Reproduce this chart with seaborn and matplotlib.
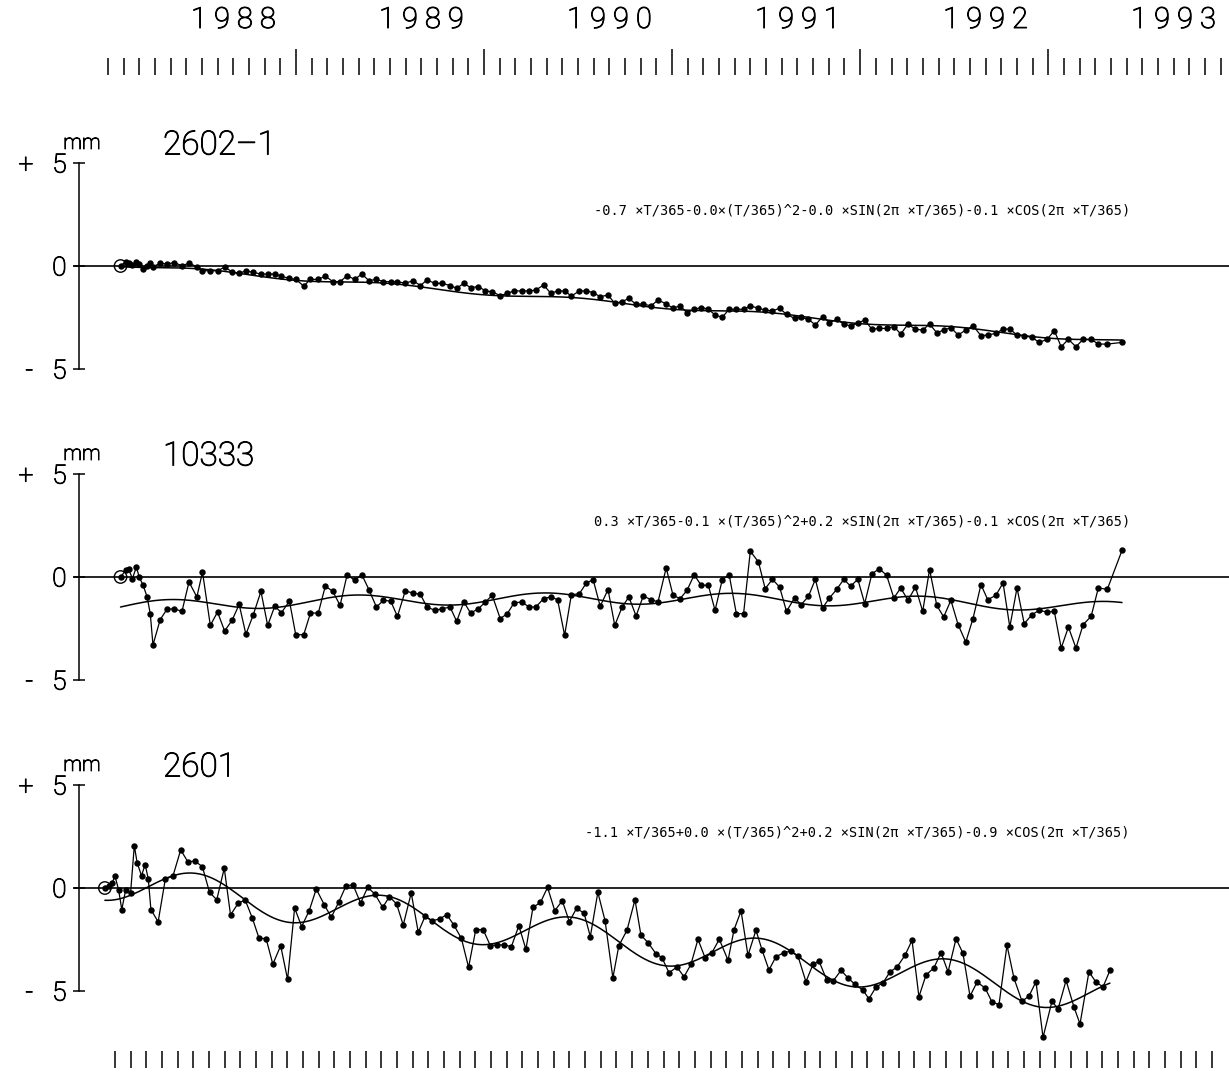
import numpy as np
import pandas as pd
import matplotlib
matplotlib.use("Agg")
import matplotlib.pyplot as plt
import matplotlib.transforms as mtransforms
import matplotlib.patheffects as pe
import seaborn as sns

# ---------------- data ----------------
# time of each levelling, months since 1 Jan 1988 (stations 2602-1 and 10333)
months_a = [0.80, 1.13, 1.31, 1.56, 1.81, 1.99, 2.24, 2.50, 2.70, 2.87,
            3.33, 3.76, 4.21, 4.72, 5.17, 5.67, 6.03, 6.53, 6.99, 7.44,
            7.92, 8.37, 8.80, 9.26, 9.76, 10.19, 10.64, 11.07, 11.58, 11.98,
            12.49, 12.92, 13.42, 13.87, 14.35, 14.81, 15.26, 15.74, 16.20, 16.65,
            17.13, 17.58, 18.04, 18.47, 18.97, 19.48, 19.93, 20.36, 20.86, 21.32,
            21.83, 22.25, 22.71, 23.14, 23.64, 24.09, 24.52, 25.03, 25.48, 25.91,
            26.41, 26.87, 27.30, 27.80, 28.26, 28.69, 29.14, 29.57, 30.08, 30.53,
            30.96, 31.41, 31.91, 32.34,
            32.81, 33.24, 33.70, 34.16, 34.65, 35.10, 35.62, 36.06, 36.51, 36.95,
            37.41, 37.85, 38.31, 38.74, 39.20, 39.64, 40.10, 40.56, 40.99, 41.51,
            41.94, 42.40, 42.86, 43.30, 43.81, 44.24, 44.70, 45.14, 45.60, 46.04,
            46.50, 46.96, 47.39, 47.85, 48.29, 48.75, 49.23, 49.69, 50.15, 50.59,
            51.05, 51.53, 51.99, 52.43, 52.89, 53.33, 53.79, 54.25, 54.74, 55.20,
            55.71, 56.14, 56.66, 57.12, 57.55, 58.01, 58.47, 58.96, 59.42, 59.93,
            60.39, 60.83, 61.29, 61.77, 62.23, 62.74, 63.20, 63.77, 64.71]

# station 2601 (measured from slightly earlier)
months_b = [-0.20, 0.04, 0.25, 0.45, 0.68, 0.88, 1.13, 1.44, 1.68, 1.86,
            2.14, 2.37, 2.57, 2.74,
            3.20, 3.66, 4.14, 4.64, 5.09, 5.55, 6.02, 6.48, 6.94, 7.42,
            7.82, 8.30, 8.75, 9.21, 9.64, 10.09, 10.52, 11.02, 11.46, 11.91,
            12.36, 12.84, 13.29, 13.80, 14.25, 14.74, 15.19, 15.64, 16.12, 16.57,
            17.03, 17.53, 17.96, 18.42, 18.84, 19.35, 19.80, 20.23, 20.69, 21.17,
            21.62, 22.07, 22.55, 23.01, 23.47, 23.94, 24.40, 24.85, 25.28, 25.74,
            26.22, 26.67, 27.12, 27.60, 28.05, 28.51, 28.99, 29.44, 29.90, 30.38,
            30.78, 31.26, 31.72, 32.22, 32.60,
            33.12, 33.63, 34.01, 34.46, 34.97, 35.35, 35.80, 36.31, 36.76, 37.20,
            37.65, 38.10, 38.54, 39.01, 39.57, 39.95, 40.40, 40.84, 41.35, 41.74,
            42.18, 42.63, 43.14, 43.59, 44.03, 44.54, 44.99, 45.37, 45.88, 46.27,
            46.78, 47.22, 47.67, 48.18, 48.56, 49.01, 49.46, 49.90, 50.35, 50.86,
            51.31, 51.75, 52.20, 52.71, 53.16, 53.61, 54.12, 54.56, 55.01, 55.46,
            55.97, 56.41, 56.86, 57.37, 57.82, 58.33, 58.77, 59.22, 59.67, 60.24,
            60.63, 61.14, 61.65, 62.03, 62.60, 63.05, 63.50, 63.94]

# height change (mm)
dh_2602_1 = [0.00, 0.21, 0.16, 0.05, 0.21, 0.08, -0.16, 0.02, 0.13, -0.03,
             0.13, 0.10, 0.16, 0.02, 0.13, -0.03, -0.23, -0.23, -0.23, -0.06,
             -0.28, -0.36, -0.23, -0.31, -0.39, -0.39, -0.39, -0.50, -0.60, -0.65,
             -0.97, -0.65, -0.65, -0.49, -0.76, -0.76, -0.47, -0.65, -0.39, -0.71,
             -0.65, -0.76, -0.76, -0.76, -0.84, -0.71, -0.95, -0.68, -0.84, -0.84,
             -0.95, -1.08, -0.84, -1.05, -1.00, -1.21, -1.25, -1.44, -1.33, -1.21,
             -1.21, -1.21, -1.17, -0.92, -1.33, -1.21, -1.21, -1.46, -1.21, -1.21,
             -1.29,
             -1.49, -1.41, -1.81, -1.73, -1.57, -1.86, -1.84, -1.94, -1.65, -1.84,
             -2.05, -1.93, -2.27, -2.10, -2.02, -2.09, -2.38, -2.49, -2.10, -2.10,
             -2.10, -1.94, -2.05, -2.14, -2.18, -2.05, -2.35, -2.54, -2.49, -2.59,
             -2.86, -2.46, -2.75, -2.59, -2.82, -2.91, -2.78, -2.62, -3.07, -3.03,
             -3.03, -2.94, -3.30, -2.83, -3.07, -3.11, -2.82, -3.24, -3.11, -2.99,
             -3.35, -3.11, -2.90, -3.38, -3.35, -3.27, -3.06, -3.06, -3.35, -3.40,
             -3.46, -3.71, -3.56, -3.14, -3.92, -3.56, -3.92, -3.56, -3.56, -3.79,
             -3.79, -3.71]

dh_10333 = [0.00, 0.32, 0.40, -0.08, 0.49, 0.00, -0.40, -0.97, -1.80, -3.30,
            -2.07, -1.57, -1.54, -1.67, -0.24, -0.97, 0.24, -2.35, -1.70, -2.62,
            -2.10, -1.33, -2.78, -1.86, -0.70, -2.35, -1.42, -1.73, -1.17, -2.80,
            -2.80, -1.75, -1.75, -0.44, -0.70, -1.38, 0.11, -0.16, 0.11, -0.61,
            -1.46, -1.13, -1.17, -1.91, -0.68, -0.78, -0.84, -1.46, -1.62, -1.54,
            -1.46, -2.15, -1.21, -1.75, -1.54, -1.21, -0.89, -2.02, -1.78, -1.26,
            -1.21, -1.46, -1.46, -1.05, -0.97, -1.10, -2.83, -0.86, -0.81, -0.29,
            -0.13, -1.42, -0.61, -2.35,
            -1.46, -0.97, -1.89, -0.92, -1.10, -1.21, 0.44, -0.89, -1.05, -0.65,
            0.11, -0.40, -0.40, -1.62, -0.13, 0.11, -1.78, -1.78, 1.25, 0.73,
            -0.57, -0.11, -0.49, -1.67, -1.02, -1.34, -0.94, -0.11, -1.50, -1.02,
            -0.60, -0.11, -0.45, -0.11, -1.29, 0.16, 0.40, 0.08, -1.02, -0.53,
            -1.13, -0.49, -1.67, 0.36, -1.38, -1.94, -1.13, -2.31, -3.16, -2.02,
            -0.37, -1.10, -0.89, -0.29, -2.43, -0.53, -2.27, -1.83, -1.62, -1.70,
            -1.67, -3.45, -2.43, -3.45, -2.31, -1.91, -0.53, -0.60, 1.29]

dh_2601 = [0.00, 0.10, 0.24, 0.57, -0.10, -1.05, -0.08, -0.24, 2.06, 1.22,
           0.60, 1.14, 0.44, -1.05,
           -1.64, 0.44, 0.57, 1.85, 1.28, 1.30, 1.04, -0.21, -0.57, 0.96,
           -1.31, -0.75, -0.57, -1.46, -2.44, -2.46, -3.70, -2.80, -4.44, -0.97,
           -1.87, -1.10, -0.05, -0.81, -1.42, -0.66, 0.11, 0.15, -0.73, 0.03,
           -0.29, -0.94, -0.42, -0.78, -1.80, -0.24, -2.15, -1.38, -1.59, -1.50,
           -1.29, -1.80, -2.44, -3.85, -2.02, -2.02, -2.80, -2.76, -2.76, -2.85,
           -1.83, -2.98, -0.94, -0.70, 0.03, -1.10, -0.62, -1.63, -0.99, -1.22,
           -2.36, -0.21, -1.59, -4.36, -2.80,
           -2.05, -0.57, -2.29, -2.65, -3.19, -3.38, -4.11, -3.84, -4.31, -3.71,
           -2.49, -3.38, -3.14, -2.49, -3.51, -2.03, -1.11, -3.27, -2.05, -3.01,
           -3.98, -3.33, -3.14, -3.06, -3.30, -4.55, -3.71, -3.54, -4.49, -4.52,
           -4.00, -4.36, -4.68, -4.96, -5.38, -4.81, -4.60, -4.08, -3.84, -3.27,
           -2.54, -5.28, -4.23, -3.87, -3.14, -4.07, -2.46, -3.17, -5.25, -4.57,
           -4.85, -5.53, -5.66, -2.78, -4.39, -5.50, -5.25, -4.55, -7.25, -5.50,
           -5.87, -4.49, -5.79, -6.60, -4.07, -4.57, -4.80, -4.00]

stations = ["2602\u20131", "10333", "2601"]

# fitted model: c0 + a*t + b*t^2 + c*sin(2 pi t) + d*cos(2 pi t),  t = T/365 (years)
fit_2602_1 = [0.10, -0.70, 0.00, 0.00, -0.10]
fit_10333 = [-1.47, 0.32, -0.06, 0.25, -0.12]
fit_2601 = [0.30, -1.10, 0.012, 0.20, -0.90]

formulas = [
    "-0.7 \u00d7T/365-0.0\u00d7(T/365)^2-0.0 \u00d7SIN(2\u03c0 \u00d7T/365)-0.1 \u00d7COS(2\u03c0 \u00d7T/365)",
    "0.3 \u00d7T/365-0.1 \u00d7(T/365)^2+0.2 \u00d7SIN(2\u03c0 \u00d7T/365)-0.1 \u00d7COS(2\u03c0 \u00d7T/365)",
    "-1.1 \u00d7T/365+0.0 \u00d7(T/365)^2+0.2 \u00d7SIN(2\u03c0 \u00d7T/365)-0.9 \u00d7COS(2\u03c0 \u00d7T/365)",
]

years = ["1 9 8 8", "1 9 8 9", "1 9 9 0", "1 9 9 1", "1 9 9 2", "1 9 9 3"]
y_ticklabels = ["-   5", "0", "+   5"]

# ---------------- style ----------------
sns.set_theme(style="white")
plt.rcParams["font.family"] = ["Roboto", "DejaVu Sans"]
plt.rcParams["axes.facecolor"] = "none"
TXT_W = "light"
THICK = [pe.withStroke(linewidth=0.7, foreground="black")]

W, H = 1229, 1072
X0, PXM = 108.0, 15.67      # pixel of Jan 1988, pixels per month
MMPX = 20.6                 # pixels per mm
zeros_px = [266, 577, 888]

def m_of(px):
    return (px - X0) / PXM

xlim = (m_of(0), m_of(W))

fig = plt.figure(figsize=(W / 100, H / 100), dpi=100)
fig.patch.set_facecolor("white")

panel_data = [
    (months_a, dh_2602_1, fit_2602_1),
    (months_a, dh_10333, fit_10333),
    (months_b, dh_2601, fit_2601),
]

axis_m = m_of(79)

for i, (mon, dh, fit) in enumerate(panel_data):
    Z = zeros_px[i]
    top_px, bot_px = Z - 150, Z + 160
    ax = fig.add_axes([0, (H - bot_px) / H, 1, (bot_px - top_px) / H])
    ax.set_xlim(xlim)
    ax.set_ylim(-160 / MMPX, 150 / MMPX)
    for s in ["top", "right", "bottom"]:
        ax.spines[s].set_visible(False)
    ax.spines["left"].set_position(("data", axis_m))
    ax.spines["left"].set_bounds(-5, 5)
    ax.spines["left"].set_linewidth(1.1)
    ax.spines["left"].set_color("black")
    ax.set_xticks([])
    ax.set_yticks([-5, 0, 5])
    ax.set_yticklabels(y_ticklabels)
    ax.tick_params(axis="y", left=True, direction="inout", length=8, width=1.1,
                   labelsize=19, pad=5, colors="black")
    for lab in ax.get_yticklabels():
        lab.set_fontweight(TXT_W)
        lab.set_path_effects(THICK)

    # zero line
    ax.axhline(0, xmin=74 / W, xmax=1, color="black", lw=1.2)

    # fitted curve
    c0, a, b, c, d = fit
    tt = np.linspace(mon[0], mon[-1], 500)
    ty = tt / 12.0
    curve = c0 + a * ty + b * ty ** 2 + c * np.sin(2 * np.pi * ty) + d * np.cos(2 * np.pi * ty)
    sns.lineplot(x=tt, y=curve, ax=ax, color="black", lw=1.1,
                 estimator=None, sort=False)

    # observations
    df = pd.DataFrame({"month": mon, "dh": dh})
    sns.lineplot(data=df, x="month", y="dh", ax=ax, color="black", lw=0.9,
                 marker="o", markersize=4.6, markeredgewidth=0,
                 estimator=None, sort=False)
    sns.scatterplot(x=[mon[0]], y=[dh[0]], ax=ax, s=80, facecolor="none",
                    edgecolor="black", linewidth=1.0, zorder=5)

    ax.set_xlabel("")
    ax.set_ylabel("")

    # labels
    ax.text(m_of(163), 5.85, stations[i], fontsize=24, fontweight=TXT_W,
            ha="left", va="center", color="black", path_effects=THICK)
    ax.text(m_of(82), 5.95, "mm", fontsize=15, fontweight=TXT_W,
            ha="center", va="center", color="black", path_effects=THICK)
    ax.text(m_of(1130), 2.7, formulas[i], fontsize=9.8,
            family=["DejaVu Sans Mono"], ha="right", va="center", color="black")

# top time ruler
ax_top = fig.add_axes([0, (H - 75) / H, 1, 0.001])
ax_top.set_xlim(xlim)
for s in ax_top.spines.values():
    s.set_visible(False)
ax_top.set_yticks([])
major_m = [12, 24, 36, 48, 60]
minor_m = [k for k in range(0, 72) if k not in major_m]
ax_top.set_xticks(major_m)
ax_top.set_xticks(minor_m, minor=True)
ax_top.tick_params(axis="x", which="major", bottom=True, direction="in",
                   length=18.5, width=1.1, labelbottom=False, colors="black")
ax_top.tick_params(axis="x", which="minor", bottom=True, direction="in",
                   length=12, width=1.1, labelbottom=False, colors="black")
trans = mtransforms.blended_transform_factory(ax_top.transData, fig.transFigure)
for k, lab in enumerate(years):
    ax_top.text(12 * k + 8.0, 1 - 20 / H, lab, transform=trans, fontsize=21,
                fontweight=TXT_W, ha="center", va="center", color="black",
                path_effects=THICK)

# bottom ruler
ax_bot = fig.add_axes([0, (H - 1068) / H, 1, 0.001])
ax_bot.set_xlim(xlim)
for s in ax_bot.spines.values():
    s.set_visible(False)
ax_bot.set_yticks([])
ax_bot.set_xticks([0.45 + k for k in range(71)])
ax_bot.tick_params(axis="x", which="major", bottom=True, direction="in",
                   length=12.5, width=1.1, labelbottom=False, colors="black")

fig.savefig("out.png", dpi=100, facecolor="white")
